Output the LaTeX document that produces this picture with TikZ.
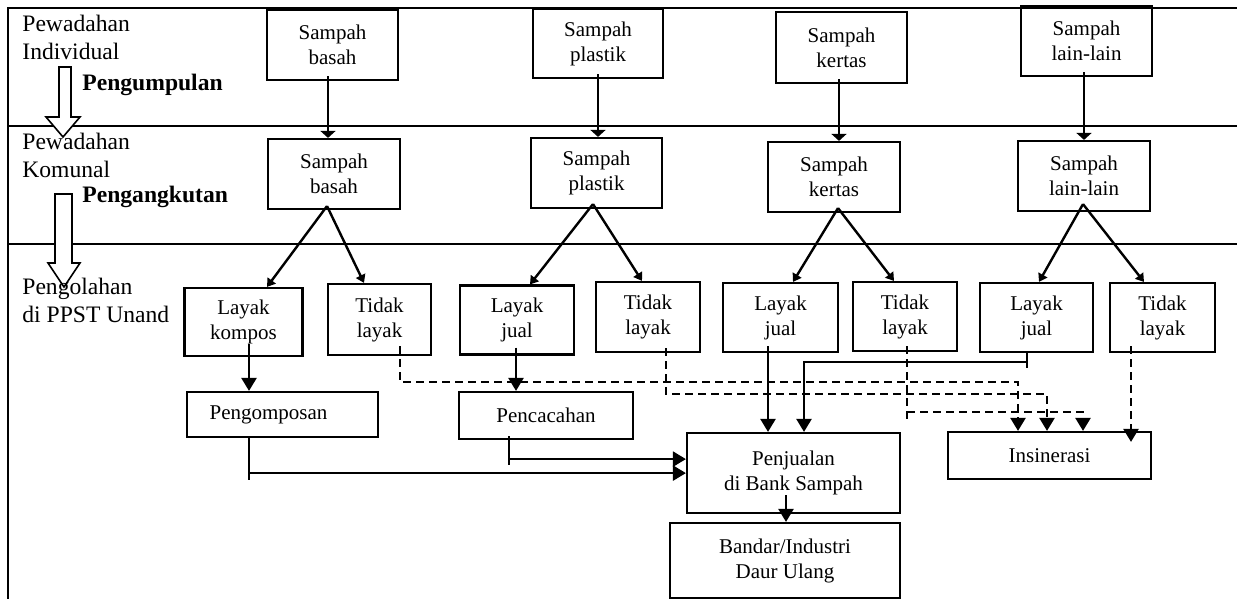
\documentclass[tikz,border=0pt]{standalone}
\usepackage{fontspec}
\setmainfont{Liberation Serif}
\usepackage{tikz}
\usetikzlibrary{arrows.meta}

\begin{document}
\begin{tikzpicture}[x=0.5pt,y=-0.5pt,
  box/.style={draw,line width=1.1pt,align=center,inner sep=0pt,
    font=\fontsize{10.5}{12.5}\selectfont},
  lbl/.style={anchor=base west,align=left,inner sep=0pt,
    font=\fontsize{11.8}{14}\selectfont},
  stage/.style={lbl,font=\fontsize{11.8}{14}\selectfont\bfseries},
  arr/.style={line width=1.2pt,-{Triangle[width=7.5pt,length=6.5pt]}},
  arrt/.style={line width=1.2pt,-{Triangle[width=7.5pt,length=3.5pt]}},
  arrs/.style={line width=1.2pt,-{Triangle[width=5pt,length=4pt]}},
  darr/.style={arr,dash pattern=on 4pt off 2.5pt}]
  \useasboundingbox (0,0) rectangle (1237,599);

  % frame and stage lines
  \draw[line width=1.1pt] (1237,8) -- (8,8) -- (8,599);
  \draw[line width=1.1pt] (8,126) -- (1237,126);
  \draw[line width=1.1pt] (8,244) -- (1237,244);

  % hollow arrows
  \draw[line width=0.8pt,fill=white] (59,67) -- (71,67) -- (71,117) -- (80,117)
    -- (63,137) -- (46,117) -- (59,117) -- cycle;
  \draw[line width=0.8pt,fill=white] (55,194) -- (72,194) -- (72,263) -- (80,263)
    -- (64,287) -- (48,263) -- (55,263) -- cycle;

  % stage labels
  \node[lbl] (indiv) at (22,60) {Pewadahan\\Individual};
  \node[lbl] (komun) at (22,177) {Pewadahan\\Komunal};
  \node[lbl] (olah) at (22,322) {Pengolahan\\di PPST Unand};
  \node[stage] (kumpul) at (82,91) {Pengumpulan};
  \node[stage] (angkut) at (82,202) {Pengangkutan};

  % individual containers
  \node[box,minimum width=65.5pt,minimum height=35pt] (ib) at (332.5,45) {Sampah\\basah};
  \node[box,minimum width=65pt,minimum height=34.5pt] (ip) at (598,43.5) {Sampah\\plastik};
  \node[box,minimum width=65.5pt,minimum height=35.5pt] (ik) at (841.5,47.5) {Sampah\\kertas};
  \node[box,minimum width=65.5pt,minimum height=35pt] (il) at (1086.5,41) {Sampah\\lain-lain};

  % communal containers
  \node[box,minimum width=66pt,minimum height=35pt] (kb) at (334,174) {Sampah\\basah};
  \node[box,minimum width=65.5pt,minimum height=35pt] (kp) at (596.5,173) {Sampah\\plastik};
  \node[box,minimum width=66pt,minimum height=35pt] (kk) at (834,177) {Sampah\\kertas};
  \node[box,minimum width=66pt,minimum height=35pt] (kl) at (1084,176) {Sampah\\lain-lain};

  % sorting
  \node[box,minimum width=59pt,minimum height=34pt] (b1) at (243.5,322) {Layak\\kompos};
  \node[box,minimum width=51.5pt,minimum height=35.5pt] (b2) at (379.5,319.5) {Tidak\\layak};
  \node[box,minimum width=57pt,minimum height=34.5pt] (b3) at (517,320) {Layak\\jual};
  \node[box,minimum width=52pt,minimum height=35pt] (b4) at (648,317) {Tidak\\layak};
  \node[box,minimum width=57.5pt,minimum height=34.5pt] (b5) at (780.5,317.5) {Layak\\jual};
  \node[box,minimum width=52pt,minimum height=34.5pt] (b6) at (905,316.5) {Tidak\\layak};
  \node[box,minimum width=56.5pt,minimum height=34.5pt] (b7) at (1036.5,317.5) {Layak\\jual};
  \node[box,minimum width=52.5pt,minimum height=34.5pt] (b8) at (1162.5,317.5) {Tidak\\layak};

  % processing
  \node[box,minimum width=95.5pt,minimum height=22.5pt] (pg) at (282.5,414.5) {Pengomposan\kern14pt};
  \node[box,minimum width=87pt,minimum height=23.5pt] (pc) at (546,415.5) {Pencacahan};
  \node[box,minimum width=106.5pt,minimum height=40pt] (pj) at (793.5,473) {Penjualan\\di Bank Sampah};
  \node[box,minimum width=101.5pt,minimum height=23.5pt] (ins) at (1049.5,455.5) {Insinerasi};
  \node[box,minimum width=115pt,minimum height=37.5pt] (bd) at (785,560.5) {Bandar/Industri\\Daur Ulang};

  % collection and transport
  \draw[arrt] ([xshift=-2.25pt,yshift=2.5pt]ib.south) -- ([xshift=-2.25pt]ib.south |- kb.north);
  \draw[arrt] ([yshift=2.5pt]ip.south) -- (ip.south |- kp.north);
  \draw[arrt] ([xshift=-1.25pt,yshift=2.5pt]ik.south) -- ([xshift=-1.25pt]ik.south |- kk.north);
  \draw[arrt] ([xshift=-1.25pt,yshift=2.5pt]il.south) -- ([xshift=-1.25pt]il.south |- kl.north);

  \draw[arrs] ([xshift=-3.5pt,yshift=2pt]kb.south) -- ([xshift=11.75pt]b1.north);
  \draw[arrs] ([xshift=-3.5pt,yshift=2pt]kb.south) -- ([xshift=-7.75pt]b2.north);
  \draw[arrs] ([xshift=-1.75pt,yshift=2.5pt]kp.south) -- ([xshift=6.5pt]b3.north);
  \draw[arrs] ([xshift=-1.75pt,yshift=2.5pt]kp.south) -- ([xshift=-3pt]b4.north);
  \draw[arrs] ([xshift=2pt,yshift=2.5pt]kk.south) -- ([xshift=6.25pt]b5.north);
  \draw[arrs] ([xshift=2pt,yshift=2.5pt]kk.south) -- ([xshift=-5.5pt]b6.north);
  \draw[arrs] ([xshift=-0.5pt,yshift=4pt]kl.south) -- ([xshift=1.25pt]b7.north);
  \draw[arrs] ([xshift=-0.5pt,yshift=4pt]kl.south) -- ([xshift=-9.25pt]b8.north);

  % solid flows
  \draw[arr] ([xshift=2.75pt,yshift=6.5pt]b1.south) -- ([xshift=2.75pt]b1.south |- pg.north);
  \draw[arr] ([xshift=-0.5pt,yshift=4pt]b3.south) -- ([xshift=-0.5pt]b3.south |- pc.north);
  \draw[line width=1.2pt] ([xshift=-16.75pt]pg.south) -- ++(0,42);
  \draw[arr] ([xshift=-16.75pt,yshift=-17.5pt]pg.south) -- ([yshift=-17.5pt]pg.south -| pj.west);
  \draw[line width=1.2pt] ([xshift=-18.5pt,yshift=2pt]pc.south) -- ++(0,29);
  \draw[arr] ([xshift=-18.5pt,yshift=-9.5pt]pc.south) -- ([yshift=-9.5pt]pc.south -| pj.west);
  \draw[arr] ([xshift=-6.25pt,yshift=3.5pt]b5.south) -- ([xshift=-6.25pt]b5.south |- pj.north);
  \draw[line width=1.2pt] ([xshift=-4.75pt]b7.south) -- ++(0,15);
  \draw[arr] ([xshift=-4.75pt,yshift=-4.5pt]b7.south) -| ([xshift=5.25pt]pj.north);
  \draw[arr] ([xshift=-3.75pt,yshift=9.5pt]pj.south) -- ([xshift=-3.75pt]pj.south |- bd.north);

  % dashed flows to incineration
  \draw[darr] ([xshift=10.25pt,yshift=5pt]b2.south) -- ([xshift=10.25pt,yshift=-13pt]b2.south)
    -| ([xshift=-15.75pt]ins.north);
  \draw[darr] ([xshift=9pt,yshift=2.5pt]b4.south) -- ([xshift=9pt,yshift=-20.5pt]b4.south)
    -| ([xshift=-1.25pt]ins.north);
  \draw[line width=1.2pt,dash pattern=on 4pt off 2.5pt] ([xshift=1pt,yshift=3pt]b6.south)
    -- ([xshift=1pt,yshift=-33.5pt]b6.south);
  \draw[darr] ([xshift=1pt,yshift=-30pt]b6.south) -| ([xshift=16.75pt]ins.north);
  \draw[darr] ([xshift=-15.75pt,yshift=3.5pt]b8.south) -- ([xshift=-15.75pt,yshift=-5.5pt]b8.south |- ins.north);
\end{tikzpicture}
\end{document}
